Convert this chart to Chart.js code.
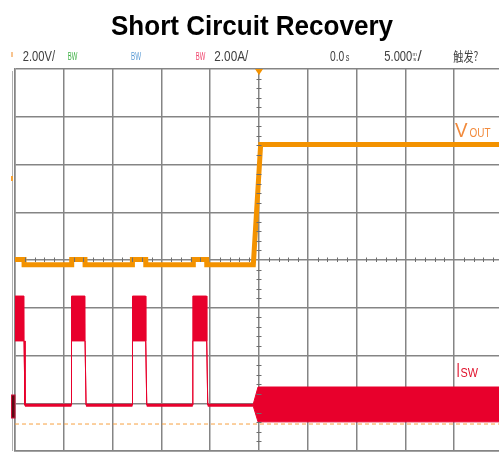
<!DOCTYPE html>
<html>
<head>
<meta charset="utf-8">
<script src="https://cdn.jsdelivr.net/npm/chart.js@4/dist/chart.umd.min.js"></script>
<style>
html,body{margin:0;padding:0;background:#fff;overflow:hidden;width:499px;height:458px;}
#wrap{position:relative;width:504px;height:458px;}
canvas{display:block;}
</style>
</head>
<body>
<div id="wrap"><canvas id="c" width="504" height="458"></canvas></div>
<script>
// ---- data (time in ms, Vout in V, Isw in A) ----
const title = "Short Circuit Recovery";
const timeRange = [-25, 25];          // 10 div x 5.000 ms/div
const timeTicks = [-25, -20, -15, -10, -5, 0, 5, 10, 15, 20, 25];
const voutTime  = [-25, -24.08, -24.07, -19.20, -19.19, -17.83, -17.82, -12.98, -12.97, -11.61, -11.60, -6.74, -6.73, -5.36, -5.35, -0.58, 0.17, 25];
const voutVolts = [0.22, 0.22, 0, 0, 0.22, 0.22, 0, 0, 0.22, 0.22, 0, 0, 0.22, 0.22, 0, 0, 5.04, 5.04];
const iswTime   = [-25, -24.08, -24.07, -23.98, -19.22, -19.21, -17.83, -17.82, -17.72, -12.97, -12.96, -11.61, -11.60, -11.50, -6.79, -6.78, -5.36, -5.35, -5.25, -0.62, -0.10, 25];
const iswUpper  = [4.57, 4.57, 2.69, 0, 0, 4.57, 4.57, 2.69, 0, 0, 4.57, 4.57, 2.69, 0, 0, 4.57, 4.57, 2.69, 0, 0, 0.76, 0.76];
const iswLower  = [2.69, 2.69, 2.69, 0, 0, 2.69, 2.69, 2.69, 0, 0, 2.69, 2.69, 2.69, 0, 0, 2.69, 2.69, 2.69, 0, 0, -0.70, -0.70];
const refTime   = [-25, 25];
const refVolts  = [-6.67, -6.67];
const voltsPerDiv = 2.00, ampsPerDiv = 2.00;
const voutOffsetDiv = -0.1, iswOffsetDiv = -3.04;

const ORANGE = '#f39200', RED = '#e8002c';
const pts = (xs, ys) => xs.map((x, i) => ({x, y: ys[i]}));

function txt(ctx, s, x, base, w, font, color) {
  ctx.save();
  ctx.font = font;
  const m = ctx.measureText(s).width;
  ctx.translate(x, base);
  ctx.scale(w / m, 1);
  ctx.fillStyle = color;
  ctx.textAlign = 'left';
  ctx.textBaseline = 'alphabetic';
  ctx.fillText(s, 0, 0);
  ctx.restore();
}

const scopePlugin = {
  id: 'scope',
  afterDraw(chart) {
    const ctx = chart.ctx;
    const xs = chart.scales.x, ys = chart.scales.yDiv;
    const ca = chart.chartArea;
    const cx = xs.getPixelForValue(0), cy = ys.getPixelForValue(0);
    // minor ticks on centre axes
    ctx.save();
    ctx.strokeStyle = '#6e6e6e';
    ctx.lineWidth = 1;
    for (let d = -4; d <= 4.001; d += 0.2) {
      if (Math.abs(d - Math.round(d)) < 0.01) continue;
      const y = Math.round(ys.getPixelForValue(d)) + 0.5;
      ctx.beginPath(); ctx.moveTo(cx - 2.5, y); ctx.lineTo(cx + 2.5, y); ctx.stroke();
    }
    for (let t = -25; t <= 25.001; t += 1) {
      if (t % 5 === 0) continue;
      const x = Math.round(xs.getPixelForValue(t)) + 0.5;
      ctx.beginPath(); ctx.moveTo(x, cy - 2.5); ctx.lineTo(x, cy + 2); ctx.stroke();
    }
    // outer left line
    ctx.strokeStyle = '#b0b0b0';
    ctx.beginPath(); ctx.moveTo(12.5, ca.top + 2); ctx.lineTo(12.5, ca.bottom); ctx.stroke();
    // trigger position triangle
    ctx.fillStyle = ORANGE;
    ctx.beginPath(); ctx.moveTo(cx - 4, ca.top); ctx.lineTo(cx + 4, ca.top); ctx.lineTo(cx, ca.top + 6); ctx.closePath(); ctx.fill();
    // ch1 trigger level marker (left)
    ctx.fillStyle = '#f5a030';
    ctx.fillRect(11, 176, 2, 5);
    // ch4 ground marker
    ctx.fillStyle = '#5a0a14';
    ctx.strokeStyle = '#d0103a';
    ctx.lineWidth = 1;
    ctx.fillRect(11.5, 395, 3.5, 23);
    ctx.strokeRect(11.5, 395, 3.5, 23);
    // header orange mark
    ctx.fillStyle = '#f8c490';
    ctx.fillRect(11, 52, 2, 5);
    ctx.restore();

    // title
    txt(ctx, title, 111, 35, 282, 'bold 28px "Liberation Sans", Arial, sans-serif', '#000');
    // header
    const hf = '14px "Liberation Sans", Arial, sans-serif', hc = '#404040';
    txt(ctx, voltsPerDiv.toFixed(2) + 'V/', 22.7, 61, 32.3, hf, hc);
    txt(ctx, 'BW', 67.7, 60, 9.6, '10px "Liberation Sans", Arial, sans-serif', '#3cb043');
    txt(ctx, 'BW', 131, 60, 10, '10px "Liberation Sans", Arial, sans-serif', '#5b9bd5');
    txt(ctx, 'BW', 195.7, 60, 9.5, '10px "Liberation Sans", Arial, sans-serif', '#f0406a');
    txt(ctx, ampsPerDiv.toFixed(2) + 'A/', 214.3, 61, 34, hf, hc);
    txt(ctx, '0.0', 330, 61, 14.3, hf, hc);
    txt(ctx, 's', 345.7, 61, 3.6, '10px "Liberation Sans", Arial, sans-serif', hc);
    txt(ctx, '5.000', 384.3, 61, 28, hf, hc);
    txt(ctx, 'm', 412.6, 55.5, 4.4, '6px "Liberation Sans", Arial, sans-serif', hc);
    txt(ctx, 's', 413.3, 61, 3, '6px "Liberation Sans", Arial, sans-serif', hc);
    txt(ctx, '/', 417.5, 61, 4.2, hf, hc);
    txt(ctx, '触发?', 453.3, 61, 25, '13px "Noto Sans CJK SC", sans-serif', hc);
    // channel labels
    txt(ctx, 'V', 455, 136.7, 12.5, '21px "Liberation Sans", Arial, sans-serif', '#f28a3c');
    txt(ctx, 'OUT', 469.5, 136.7, 21, '12.5px "Liberation Sans", Arial, sans-serif', '#f28a3c');
    txt(ctx, 'I', 456.5, 376.7, 3.3, '20px "Liberation Sans", Arial, sans-serif', '#e0102a');
    txt(ctx, 'SW', 460.5, 376.7, 17.5, '12.5px "Liberation Sans", Arial, sans-serif', '#e0102a');
  }
};

const gridColor = '#858585';
new Chart(document.getElementById('c'), {
  type: 'line',
  data: {
    datasets: [
      { label: 'Isw max', data: pts(iswTime, iswUpper), yAxisID: 'yI', borderColor: RED, borderWidth: 1,
        backgroundColor: RED, fill: '+1', pointRadius: 0, tension: 0 },
      { label: 'Isw min', data: pts(iswTime, iswLower), yAxisID: 'yI', borderColor: RED, borderWidth: 1,
        fill: false, pointRadius: 0, tension: 0,
        segment: { borderWidth: c => (c.p0.parsed.y === 0 && c.p1.parsed.y === 0) ? 3 : 1 } },
      { label: 'Vout', data: pts(voutTime, voutVolts), yAxisID: 'yV', borderColor: ORANGE, borderWidth: 5,
        fill: false, pointRadius: 0, tension: 0 },
      { label: 'ref', data: pts(refTime, refVolts), yAxisID: 'yV', borderColor: '#f7a040', borderWidth: 1,
        borderDash: [4, 3], fill: false, pointRadius: 0 }
    ]
  },
  options: {
    responsive: false,
    animation: false,
    events: [],
    layout: { padding: { top: 69, bottom: 7, left: 15, right: 1 } },
    plugins: { legend: { display: false }, tooltip: { enabled: false }, title: { display: false } },
    scales: {
      x: { type: 'linear', position: 'bottom', min: timeRange[0], max: timeRange[1],
        afterBuildTicks: s => { s.ticks = timeTicks.map(v => ({value: v})); },
        ticks: { display: false },
        grid: { color: gridColor, lineWidth: 1.5, drawTicks: false },
        border: { color: gridColor, width: 1.5 } },
      yDiv: { type: 'linear', position: 'left', min: -4, max: 4,
        ticks: { display: false, stepSize: 1 },
        grid: { color: gridColor, lineWidth: 1.5, drawTicks: false },
        border: { color: gridColor, width: 1.5 } },
      yV: { type: 'linear', display: false,
        min: (-4 - voutOffsetDiv) * voltsPerDiv, max: (4 - voutOffsetDiv) * voltsPerDiv },
      yI: { type: 'linear', display: false,
        min: (-4 - iswOffsetDiv) * ampsPerDiv, max: (4 - iswOffsetDiv) * ampsPerDiv }
    }
  },
  plugins: [scopePlugin]
});
</script>
</body>
</html>
